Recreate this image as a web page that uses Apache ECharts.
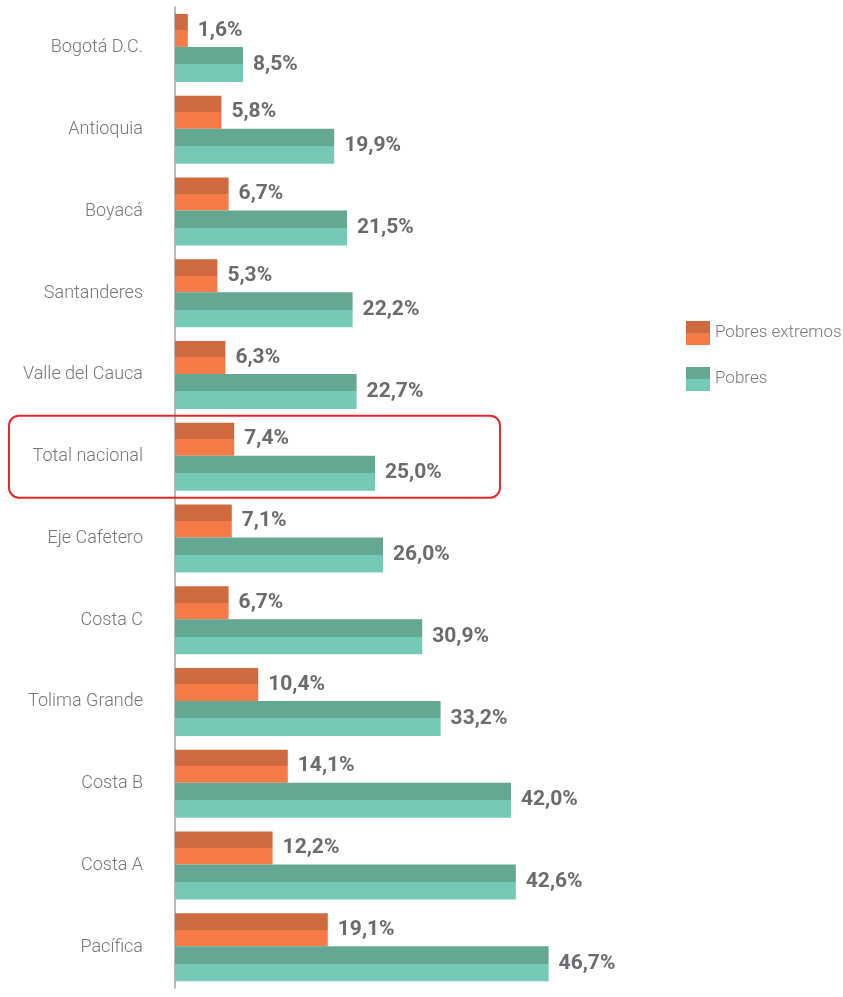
<!DOCTYPE html>
<html lang="es">
  <head>
    <meta charset="UTF-8" />
    <title>Pobreza por región</title>
    <script src="https://cdn.jsdelivr.net/npm/echarts@6/dist/echarts.min.js"></script>
    <style>
      html, body { margin: 0; padding: 0; background: #fff; }
      #app { width: 843px; height: 997px; }
    </style>
  </head>
  <body>
    <div id="app"></div>
    <script>
      const regiones = [
        "Bogotá D.C.", "Antioquia", "Boyacá", "Santanderes", "Valle del Cauca",
        "Total nacional", "Eje Cafetero", "Costa C", "Tolima Grande", "Costa B",
        "Costa A", "Pacífica"
      ];
      const pobresExtremos = [1.6, 5.8, 6.7, 5.3, 6.3, 7.4, 7.1, 6.7, 10.4, 14.1, 12.2, 19.1];
      const pobres = [8.5, 19.9, 21.5, 22.2, 22.7, 25.0, 26.0, 30.9, 33.2, 42.0, 42.6, 46.7];
      const resaltado = "Total nacional";

      const fuente = "Roboto, 'Liberation Sans Narrow', sans-serif";

      // dos tonos por barra: mitad superior oscura, inferior clara
      function dosTonos(oscuro, claro) {
        return new echarts.graphic.LinearGradient(0, 0, 0, 1, [
          { offset: 0, color: oscuro },
          { offset: 0.5, color: oscuro },
          { offset: 0.5, color: claro },
          { offset: 1, color: claro },
        ]);
      }

      const etiqueta = {
        show: true,
        position: "right",
        distance: 10,
        color: "#6b6b6f",
        fontFamily: fuente,
        fontWeight: "bold",
        fontSize: 21,
        formatter: (p) => p.value.toFixed(1).replace(".", ",") + "%",
      };

      const chart = echarts.init(document.getElementById("app"));

      chart.setOption({
        animation: false,
        grid: { left: 175, right: 188, top: 7, bottom: 9, containLabel: false },
        legend: {
          orient: "vertical",
          left: 681,
          top: 316,
          itemWidth: 24,
          itemHeight: 24,
          itemGap: 22,
          icon: "rect",
          textStyle: { color: "#777", fontFamily: fuente, fontWeight: 300, fontSize: 17 },
          data: ["Pobres extremos", "Pobres"],
        },
        xAxis: { type: "value", min: 0, max: 60, show: false },
        yAxis: {
          type: "category",
          inverse: true,
          data: regiones,
          axisLine: { lineStyle: { color: "#a3a3a3", width: 1.5 } },
          axisTick: { length: 13, lineStyle: { color: "#a3a3a3", width: 1.5 } },
          axisLabel: { color: "#777", fontFamily: fuente, fontWeight: 300, fontSize: 18, margin: 32 },
        },
        series: [
          {
            name: "Pobres extremos",
            type: "bar",
            data: pobresExtremos,
            barWidth: 33,
            barGap: "0%",
            itemStyle: { color: dosTonos("#cf6a40", "#f47a48") },
            label: etiqueta,
          },
          {
            name: "Pobres",
            type: "bar",
            data: pobres,
            barWidth: 35,
            itemStyle: { color: dosTonos("#64a793", "#74cab7") },
            label: etiqueta,
          },
        ],
      });

      // recuadro rojo alrededor de la fila resaltada
      const yc = chart.convertToPixel({ yAxisIndex: 0 }, resaltado);
      chart.setOption({
        graphic: [{
          type: "rect",
          shape: { x: 9, y: yc - 41, width: 491, height: 82, r: 10 },
          style: { fill: "none", stroke: "#e8262b", lineWidth: 2 },
          z: 10,
        }],
      });
    </script>
  </body>
</html>
